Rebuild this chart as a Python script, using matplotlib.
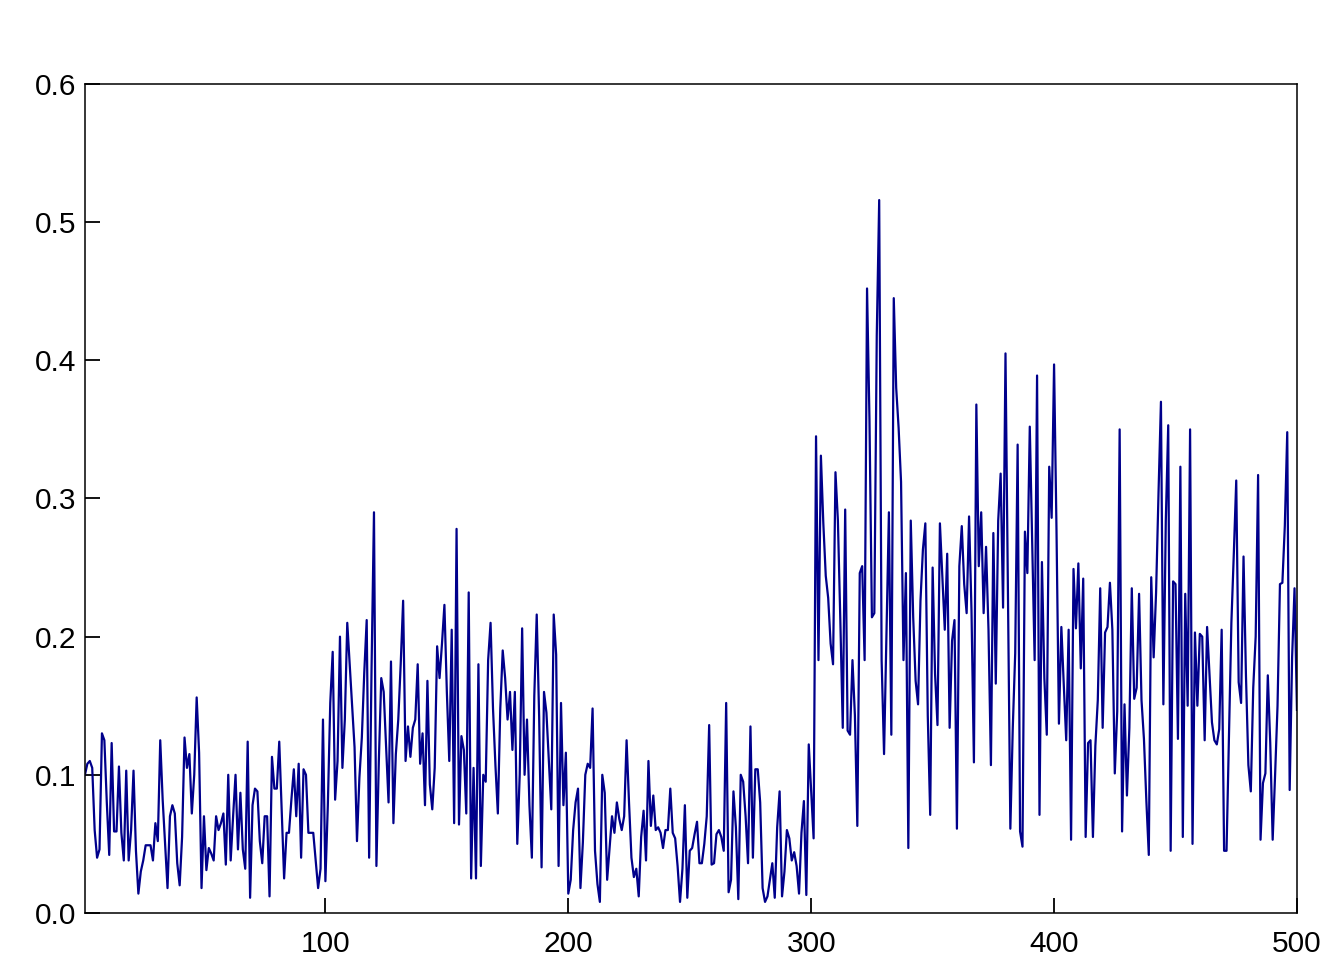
import numpy as np
import matplotlib
matplotlib.use('Agg')
import matplotlib.pyplot as plt

# series values, one per time step
values = [
    0.100, 0.108, 0.110, 0.105, 0.060, 0.040, 0.046, 0.130, 0.125, 0.080,
    0.042, 0.123, 0.059, 0.059, 0.106, 0.058, 0.038, 0.103, 0.038, 0.060,
    0.103, 0.045, 0.014, 0.030, 0.038, 0.049, 0.049, 0.049, 0.038, 0.065,
    0.052, 0.125, 0.082, 0.050, 0.018, 0.070, 0.078, 0.072, 0.036, 0.020,
    0.055, 0.127, 0.105, 0.115, 0.072, 0.100, 0.156, 0.116, 0.018, 0.070,
    0.031, 0.047, 0.043, 0.038, 0.070, 0.060, 0.065, 0.072, 0.035, 0.100,
    0.038, 0.070, 0.100, 0.046, 0.087, 0.046, 0.032, 0.124, 0.011, 0.078,
    0.090, 0.088, 0.052, 0.036, 0.070, 0.070, 0.012, 0.113, 0.090, 0.090,
    0.124, 0.075, 0.025, 0.058, 0.058, 0.082, 0.104, 0.070, 0.108, 0.040,
    0.104, 0.100, 0.058, 0.058, 0.058, 0.038, 0.018, 0.032, 0.140, 0.023,
    0.078, 0.152, 0.189, 0.082, 0.110, 0.200, 0.105, 0.140, 0.210, 0.180,
    0.150, 0.120, 0.052, 0.098, 0.127, 0.174, 0.212, 0.040, 0.177, 0.290,
    0.034, 0.110, 0.170, 0.160, 0.120, 0.080, 0.182, 0.065, 0.115, 0.140,
    0.180, 0.226, 0.110, 0.135, 0.113, 0.134, 0.140, 0.180, 0.108, 0.130,
    0.078, 0.168, 0.093, 0.075, 0.105, 0.193, 0.170, 0.195, 0.223, 0.160,
    0.110, 0.205, 0.065, 0.278, 0.064, 0.128, 0.118, 0.072, 0.232, 0.025,
    0.105, 0.025, 0.180, 0.034, 0.100, 0.095, 0.183, 0.210, 0.148, 0.107,
    0.072, 0.148, 0.190, 0.170, 0.140, 0.160, 0.118, 0.160, 0.050, 0.100,
    0.206, 0.100, 0.140, 0.078, 0.040, 0.157, 0.216, 0.142, 0.033, 0.160,
    0.145, 0.110, 0.075, 0.216, 0.187, 0.034, 0.152, 0.078, 0.116, 0.014,
    0.024, 0.060, 0.080, 0.090, 0.018, 0.051, 0.100, 0.108, 0.105, 0.148,
    0.045, 0.021, 0.008, 0.100, 0.087, 0.024, 0.047, 0.070, 0.058, 0.080,
    0.068, 0.060, 0.070, 0.125, 0.080, 0.040, 0.026, 0.032, 0.012, 0.055,
    0.074, 0.038, 0.110, 0.063, 0.085, 0.060, 0.062, 0.058, 0.047, 0.060,
    0.060, 0.090, 0.058, 0.054, 0.034, 0.008, 0.032, 0.078, 0.011, 0.045,
    0.047, 0.057, 0.066, 0.036, 0.036, 0.050, 0.070, 0.136, 0.035, 0.036,
    0.057, 0.060, 0.055, 0.045, 0.152, 0.015, 0.024, 0.088, 0.062, 0.010,
    0.100, 0.095, 0.070, 0.036, 0.135, 0.040, 0.104, 0.104, 0.080, 0.018,
    0.008, 0.012, 0.024, 0.036, 0.011, 0.062, 0.088, 0.012, 0.030, 0.060,
    0.054, 0.038, 0.044, 0.034, 0.014, 0.058, 0.081, 0.013, 0.122, 0.088,
    0.054, 0.345, 0.183, 0.331, 0.282, 0.244, 0.228, 0.195, 0.180, 0.319,
    0.284, 0.212, 0.134, 0.292, 0.132, 0.129, 0.183, 0.143, 0.063, 0.246,
    0.251, 0.183, 0.452, 0.357, 0.214, 0.217, 0.418, 0.516, 0.183, 0.115,
    0.204, 0.290, 0.129, 0.445, 0.380, 0.351, 0.312, 0.183, 0.246, 0.047,
    0.284, 0.214, 0.168, 0.151, 0.226, 0.263, 0.282, 0.143, 0.071, 0.250,
    0.173, 0.136, 0.282, 0.244, 0.205, 0.260, 0.134, 0.197, 0.212, 0.061,
    0.251, 0.280, 0.238, 0.217, 0.287, 0.219, 0.109, 0.368, 0.251, 0.290,
    0.217, 0.265, 0.205, 0.107, 0.275, 0.166, 0.284, 0.318, 0.221, 0.405,
    0.229, 0.061, 0.134, 0.188, 0.339, 0.059, 0.048, 0.276, 0.246, 0.352,
    0.266, 0.183, 0.389, 0.071, 0.254, 0.170, 0.129, 0.323, 0.286, 0.397,
    0.277, 0.137, 0.207, 0.165, 0.125, 0.205, 0.053, 0.249, 0.206, 0.253,
    0.177, 0.242, 0.055, 0.123, 0.125, 0.055, 0.121, 0.154, 0.235, 0.134,
    0.203, 0.207, 0.239, 0.205, 0.101, 0.146, 0.350, 0.059, 0.151, 0.085,
    0.134, 0.235, 0.155, 0.163, 0.231, 0.154, 0.126, 0.081, 0.042, 0.243,
    0.185, 0.232, 0.304, 0.370, 0.151, 0.284, 0.353, 0.045, 0.240, 0.238,
    0.126, 0.323, 0.055, 0.231, 0.150, 0.350, 0.050, 0.203, 0.150, 0.202,
    0.200, 0.125, 0.207, 0.173, 0.138, 0.125, 0.122, 0.133, 0.205, 0.045,
    0.045, 0.129, 0.210, 0.260, 0.313, 0.167, 0.152, 0.258, 0.172, 0.107,
    0.088, 0.163, 0.200, 0.317, 0.053, 0.094, 0.101, 0.172, 0.123, 0.053,
    0.100, 0.150, 0.238, 0.239, 0.280, 0.348, 0.089, 0.185, 0.235, 0.147,
]
steps = np.arange(1, len(values) + 1)

x_ticks = [100, 200, 300, 400, 500]
y_ticks = [0.0, 0.1, 0.2, 0.3, 0.4, 0.5, 0.6]

plt.rcParams['font.family'] = ['Liberation Sans', 'DejaVu Sans']

fig = plt.figure(figsize=(13.44, 9.6), dpi=100)
ax = fig.add_axes([0.0632, 0.049, 0.9018, 0.8635])

# the series
ax.plot(steps, values, color='#00008B', linewidth=1.6)

ax.set_xlim(1, 500)
ax.set_ylim(0, 0.6)
ax.set_xticks(x_ticks)
ax.set_yticks(y_ticks)
ax.set_yticklabels([f'{v:.1f}' for v in y_ticks])

ax.tick_params(direction='in', length=11, width=1.3, labelsize=21.5, colors='black')
ax.tick_params(axis='y', pad=6)
ax.tick_params(axis='x', pad=12)
for spine in ax.spines.values():
    spine.set_linewidth(1.1)

plt.savefig('out.png', dpi=100)
plt.close()
